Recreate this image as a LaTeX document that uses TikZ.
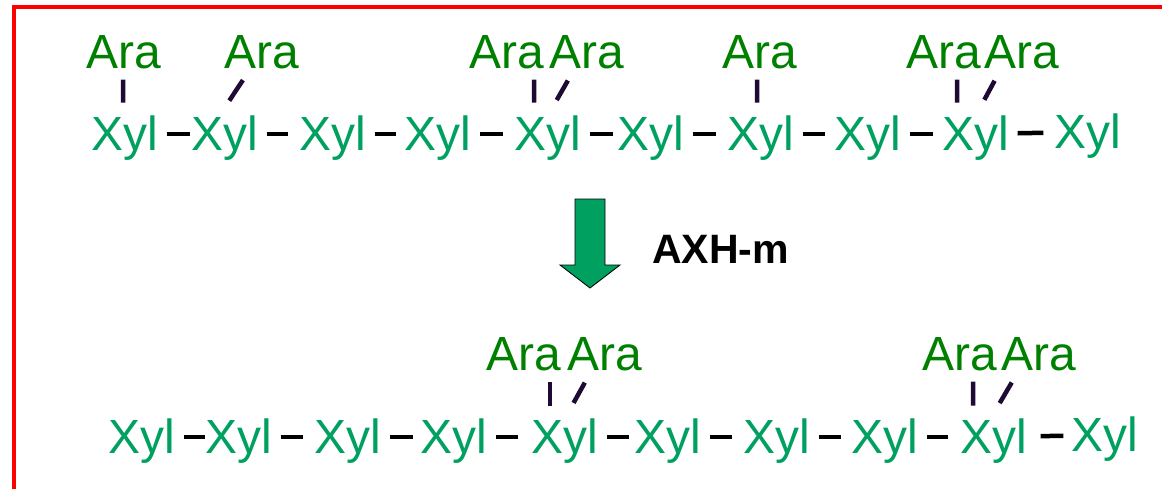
\documentclass[tikz,border=0pt]{standalone}
\usepackage{fontspec}
\setmainfont{Liberation Sans}
\definecolor{xylgreen}{RGB}{0,160,96}
\definecolor{aragreen}{RGB}{0,128,0}
\definecolor{linkcol}{RGB}{30,10,50}

\tikzset{
  xyl/.style={anchor=base, inner sep=0pt, text=xylgreen,
    font=\fontsize{34.1}{40}\selectfont, text height=0.86cm, text depth=0.06cm},
  ara/.style={anchor=base, inner sep=0pt, text=aragreen,
    font=\fontsize{34.1}{40}\selectfont},
  bond/.style={line width=3.2pt, shorten <=0.2cm},
  vlink/.style={draw=linkcol, line width=3.2pt, shorten <=0.32cm, shorten >=0.27cm},
  slink/.style={draw=linkcol, line width=3.2pt, shorten <=0.44cm, shorten >=0.34cm},
  redframe/.style={draw=red, line width=3.1pt}
}

\begin{document}
\begin{tikzpicture}
\useasboundingbox (0,0) rectangle (29.05,12.225);
\draw[redframe] (0.35,0) -- (0.35,12.05) -- (29.05,12.05);

% substrate
\begin{scope}[yshift=8.475cm]
\node[xyl] (t1) at (3.125,0) {Xyl};
\node[xyl] (t2) at (5.625,0) {Xyl};
\node[xyl] (t3) at (8.325,0) {Xyl};
\node[xyl] (t4) at (10.95,0) {Xyl};
\node[xyl] (t5) at (13.7,0) {Xyl};
\node[xyl] (t6) at (16.275,0) {Xyl};
\node[xyl] (t7) at (19.025,0) {Xyl};
\node[xyl] (t8) at (21.7,0) {Xyl};
\node[xyl] (t9) at (24.4,0) {Xyl};
\node[xyl] (t10) at (27.2,0.05) {Xyl};

\node[ara] (a1) at (3.1,2.05) {Ara};
\node[ara] (a2) at (6.55,2.05) {Ara};
\node[ara] (a3) at (12.675,2.05) {Ara};
\node[ara] (a4) at (14.675,2.05) {Ara};
\node[ara] (a5) at (19.0,2.05) {Ara};
\node[ara] (a6) at (23.6,2.05) {Ara};
\node[ara] (a7) at (25.55,2.05) {Ara};

\draw[bond, shorten >=0.025cm] (t1) -- (t2);
\draw[bond, shorten >=0.275cm] (t2) -- (t3);
\draw[bond, shorten >=0.2cm] (t3) -- (t4);
\draw[bond, shorten >=0.275cm] (t4) -- (t5);
\draw[bond, shorten >=0.1cm] (t5) -- (t6);
\draw[bond, shorten >=0.275cm] (t6) -- (t7);
\draw[bond, shorten >=0.225cm] (t7) -- (t8);
\draw[bond, shorten >=0.225cm] (t8) -- (t9);
\draw[bond, shorten >=0.275cm] (t9) -- (t10);

\draw[vlink] ([xshift=-0.05cm]t1.north) -- ([xshift=-0.025cm]a1.south);
\draw[slink] ([xshift=-0.135cm]t2.north) -- ([xshift=-0.29cm]a2.south);
\draw[vlink] ([xshift=-0.35cm]t5.north) -- ([xshift=0.675cm]a3.south);
\draw[slink] (t5.north) -- ([xshift=-0.31cm]a4.south);
\draw[vlink] ([xshift=-0.1cm]t7.north) -- ([xshift=-0.075cm]a5.south);
\draw[vlink] ([xshift=-0.475cm]t9.north) -- ([xshift=0.325cm]a6.south);
\draw[slink] (t9.north) -- ([xshift=-0.525cm]a7.south);
\end{scope}

% enzyme step
\filldraw[fill=xylgreen, draw=black, line width=0.6pt] (14.375,7.25) -- (15.125,7.25) -- (15.125,5.6)
  -- (15.5,5.6) -- (14.75,5.025) -- (14.0,5.6) -- (14.375,5.6) -- cycle;
\node[anchor=base west, inner sep=0pt, font=\bfseries\fontsize{29.2}{34}\selectfont] (enz) at (16.3,5.65) {AXH-m};

% product
\begin{scope}[yshift=0.9cm]
\node[xyl] (b1) at (3.55,0) {Xyl};
\node[xyl] (b2) at (5.975,0) {Xyl};
\node[xyl] (b3) at (8.7,0) {Xyl};
\node[xyl] (b4) at (11.35,0) {Xyl};
\node[xyl] (b5) at (14.125,0) {Xyl};
\node[xyl] (b6) at (16.7,0) {Xyl};
\node[xyl] (b7) at (19.425,0) {Xyl};
\node[xyl] (b8) at (22.125,0) {Xyl};
\node[xyl] (b9) at (24.85,0) {Xyl};
\node[xyl] (b10) at (27.625,0.05) {Xyl};

\node[ara] (c1) at (13.1,2.075) {Ara};
\node[ara] (c2) at (15.125,2.075) {Ara};
\node[ara] (c3) at (24.0,2.075) {Ara};
\node[ara] (c4) at (25.975,2.075) {Ara};

\draw[bond, shorten >=0cm] (b1) -- (b2);
\draw[bond, shorten >=0.275cm] (b2) -- (b3);
\draw[bond, shorten >=0.175cm] (b3) -- (b4);
\draw[bond, shorten >=0.325cm] (b4) -- (b5);
\draw[bond, shorten >=0.125cm] (b5) -- (b6);
\draw[bond, shorten >=0.275cm] (b6) -- (b7);
\draw[bond, shorten >=0.25cm] (b7) -- (b8);
\draw[bond, shorten >=0.3cm] (b8) -- (b9);
\draw[bond, shorten <=0.325cm, shorten >=0.2cm] (b9) -- (b10);

\draw[vlink] ([xshift=-0.375cm]b5.north) -- ([xshift=0.65cm]c1.south);
\draw[slink] (b5.north) -- ([xshift=-0.34cm]c2.south);
\draw[vlink] ([xshift=-0.525cm]b9.north) -- ([xshift=0.325cm]c3.south);
\draw[slink] ([xshift=-0.08cm]b9.north) -- ([xshift=-0.51cm]c4.south);
\end{scope}

\end{tikzpicture}
\end{document}
